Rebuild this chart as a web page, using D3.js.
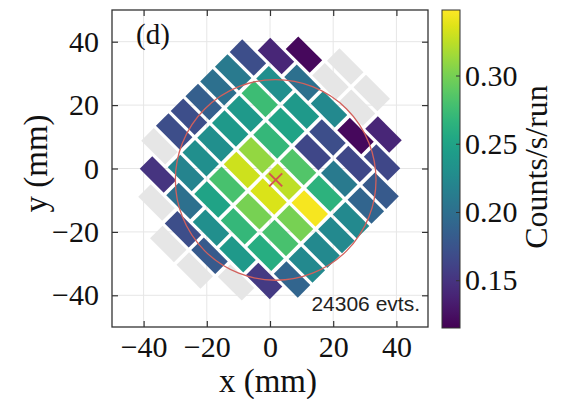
<!DOCTYPE html>
<html><head><meta charset="utf-8">
<script src="https://cdn.jsdelivr.net/npm/d3@7"></script>
<style>body{margin:0;background:#fff}svg{display:block}</style>
</head><body><svg id="c" width="564" height="399"></svg>
<script>
// ---- data ----
const xTicks = [-40, -20, 0, 20, 40];
const yTicks = [-40, -20, 0, 20, 40];
const cbTicks = [0.15, 0.20, 0.25, 0.30];
const rateDomain = [0.115, 0.348];
// cell centres in the 45-degree detector frame (mm): U along the long side, V across
const cellU = [
  -5.93, 5.93,
  -17.8, -5.93, 5.93, 17.8,
  -23.74, -11.87, 0, 11.87, 23.74,
  -29.68, -17.8, -5.93, 5.93, 17.8, 29.68,
  -29.68, -17.8, -5.93, 5.93, 17.8, 29.68,
  -29.68, -17.8, -5.93, 5.93, 17.8, 29.68,
  -29.68, -17.8, -5.93, 5.93, 17.8, 29.68,
  -29.68, -17.8, -5.93, 5.93, 17.8, 29.68,
  -29.68, -17.8, -5.93, 5.93, 17.8, 29.68,
  -29.68, -17.8, -5.93, 5.93, 17.8, 29.68,
  -23.74, -11.87, 0, 11.87, 23.74,
  -17.8, -5.93, 5.93, 17.8,
  -5.93, 5.93
];
const cellV = [
  39.6, 39.6,
  33, 33, 33, 33,
  26.4, 26.4, 26.4, 26.4, 26.4,
  19.8, 19.8, 19.8, 19.8, 19.8, 19.8,
  13.2, 13.2, 13.2, 13.2, 13.2, 13.2,
  6.6, 6.6, 6.6, 6.6, 6.6, 6.6,
  0, 0, 0, 0, 0, 0,
  -6.6, -6.6, -6.6, -6.6, -6.6, -6.6,
  -13.2, -13.2, -13.2, -13.2, -13.2, -13.2,
  -19.8, -19.8, -19.8, -19.8, -19.8, -19.8,
  -26.4, -26.4, -26.4, -26.4, -26.4,
  -33, -33, -33, -33,
  -39.6, -39.6
];
// counts/s/run, null = no data (grey)
const cellRate = [
  null, null,
  0.12, null, null, 0.14,
  0.14, 0.20, 0.225, 0.12, 0.165,
  0.17, 0.23, 0.24, 0.17, 0.165, 0.18,
  0.21, 0.275, 0.25, 0.165, 0.21, 0.19,
  0.20, 0.24, 0.27, 0.285, 0.265, 0.225,
  0.185, 0.24, 0.31, 0.325, 0.345, 0.225,
  0.17, 0.23, 0.33, 0.335, 0.30, 0.225,
  0.17, 0.23, 0.28, 0.30, 0.28, 0.225,
  null, 0.22, 0.25, 0.27, 0.26, 0.19,
  0.15, 0.20, 0.23, 0.24, 0.155,
  null, 0.17, 0.18, null,
  null, null
];
const beamCenter = [1.8, -3.6];
const beamRadius = 31.7;
const panelLabel = "(d)";
const evtLabel = "24306 evts.";
const cbTitle = "Counts/s/run";
const xTitle = "x (mm)", yTitle = "y (mm)";

// ---- geometry ----
const cellLen = 10.7, cellWid = 5.6; // mm
const svg = d3.select("#c");
const x = d3.scaleLinear().domain([-50, 50]).range([112, 428]);
const y = d3.scaleLinear().domain([-50, 50]).range([327, 10]);
const color = d3.scaleSequential(d3.interpolateViridis).domain(rateDomain);
const serif = "'Liberation Serif','Times New Roman',serif";
const pxmm = (x(1) - x(0) + y(0) - y(1)) / 2;

const cells = cellU.map((u, i) => {
  const v = cellV[i];
  return { cx: (u + v) / Math.SQRT2, cy: (v - u) / Math.SQRT2, r: cellRate[i] };
});

// grid
const grid = svg.append("g");
grid.selectAll(".gx").data(xTicks).join("line")
  .attr("x1", d => x(d)).attr("x2", d => x(d)).attr("y1", y(-50)).attr("y2", y(50))
  .attr("stroke", "#e6e6e6").attr("stroke-width", 1);
grid.selectAll(".gy").data(yTicks).join("line")
  .attr("y1", d => y(d)).attr("y2", d => y(d)).attr("x1", x(-50)).attr("x2", x(50))
  .attr("stroke", "#e6e6e6").attr("stroke-width", 1);

// cells
svg.append("g").selectAll("rect").data(cells).join("rect")
  .attr("transform", d => `translate(${x(d.cx)},${y(d.cy)}) rotate(45)`)
  .attr("x", -cellLen * pxmm / 2).attr("y", -cellWid * pxmm / 2)
  .attr("width", cellLen * pxmm).attr("height", cellWid * pxmm)
  .attr("fill", d => d.r == null ? "#e6e6e6" : color(d.r));

// beam circle and centre
svg.append("circle")
  .attr("cx", x(beamCenter[0])).attr("cy", y(beamCenter[1]))
  .attr("r", beamRadius * pxmm)
  .attr("fill", "none").attr("stroke", "#d2605c").attr("stroke-width", 1.3);
const mk = 6.5;
const bx = x(beamCenter[0]), by = y(beamCenter[1]);
svg.append("path")
  .attr("d", `M${bx - mk},${by - mk}L${bx + mk},${by + mk}M${bx - mk},${by + mk}L${bx + mk},${by - mk}`)
  .attr("stroke", "#d5534f").attr("stroke-width", 2).attr("fill", "none");

// frame
svg.append("rect").attr("x", x(-50)).attr("y", y(50))
  .attr("width", x(50) - x(-50)).attr("height", y(-50) - y(50))
  .attr("fill", "none").attr("stroke", "#333").attr("stroke-width", 1.3);

// axes (ticks inward)
const tl = 6;
const axB = svg.append("g").attr("transform", `translate(0,${y(-50)})`)
  .call(d3.axisBottom(x).tickValues(xTicks).tickSizeInner(-tl).tickSizeOuter(0).tickPadding(tl + 4));
const axT = svg.append("g").attr("transform", `translate(0,${y(50)})`)
  .call(d3.axisTop(x).tickValues(xTicks).tickSizeInner(-tl).tickSizeOuter(0).tickFormat(""));
const axL = svg.append("g").attr("transform", `translate(${x(-50)},0)`)
  .call(d3.axisLeft(y).tickValues(yTicks).tickSizeInner(-tl).tickSizeOuter(0).tickPadding(tl + 7));
const axR = svg.append("g").attr("transform", `translate(${x(50)},0)`)
  .call(d3.axisRight(y).tickValues(yTicks).tickSizeInner(-tl).tickSizeOuter(0).tickFormat(""));
[axB, axT, axL, axR].forEach(a => {
  a.select(".domain").remove();
  a.selectAll(".tick line").attr("stroke", "#333").attr("stroke-width", 1.2);
  a.selectAll("text").attr("font-family", serif).attr("font-size", 30).attr("fill", "#111");
});
axB.selectAll("text").attr("dy", "0.68em");

// texts
svg.append("text").attr("x", 136).attr("y", 44).text(panelLabel)
  .attr("font-family", serif).attr("font-size", 29).attr("fill", "#111");
svg.append("text").attr("x", 420).attr("y", 311).attr("text-anchor", "end").text(evtLabel)
  .attr("font-family", "'Liberation Sans',Arial,sans-serif").attr("font-size", 21).attr("fill", "#222");
svg.append("text").attr("x", x(0) - 2).attr("y", 392).attr("text-anchor", "middle").text(xTitle)
  .attr("font-family", serif).attr("font-size", 33).attr("fill", "#111");
svg.append("text").attr("transform", `translate(47,${y(0) - 5}) rotate(-90)`).attr("text-anchor", "middle").text(yTitle)
  .attr("font-family", serif).attr("font-size", 33).attr("fill", "#111");

// colorbar
const cbX = 442, cbW = 18;
const cy = d3.scaleLinear().domain(rateDomain).range([328, 10]);
const defs = svg.append("defs");
const grad = defs.append("linearGradient").attr("id", "vg").attr("x1", 0).attr("x2", 0).attr("y1", 1).attr("y2", 0);
d3.range(0, 1.0001, 0.05).forEach(t => {
  grad.append("stop").attr("offset", t).attr("stop-color", color(rateDomain[0] + t * (rateDomain[1] - rateDomain[0])));
});
svg.append("rect").attr("x", cbX).attr("y", cy(rateDomain[1])).attr("width", cbW)
  .attr("height", cy(rateDomain[0]) - cy(rateDomain[1])).attr("fill", "url(#vg)")
  .attr("stroke", "#333").attr("stroke-width", 1);
const axC = svg.append("g").attr("transform", `translate(${cbX + cbW},0)`)
  .call(d3.axisRight(cy).tickValues(cbTicks).tickFormat(d3.format(".2f")).tickSizeInner(-4).tickSizeOuter(0).tickPadding(5));
axC.select(".domain").remove();
axC.selectAll(".tick line").attr("stroke", "#333");
axC.selectAll("text").attr("font-family", serif).attr("font-size", 30).attr("fill", "#111");
svg.append("text").attr("transform", `translate(547,167) rotate(-90)`).attr("text-anchor", "middle").text(cbTitle)
  .attr("font-family", serif).attr("font-size", 32).attr("fill", "#111");
</script></body></html>
